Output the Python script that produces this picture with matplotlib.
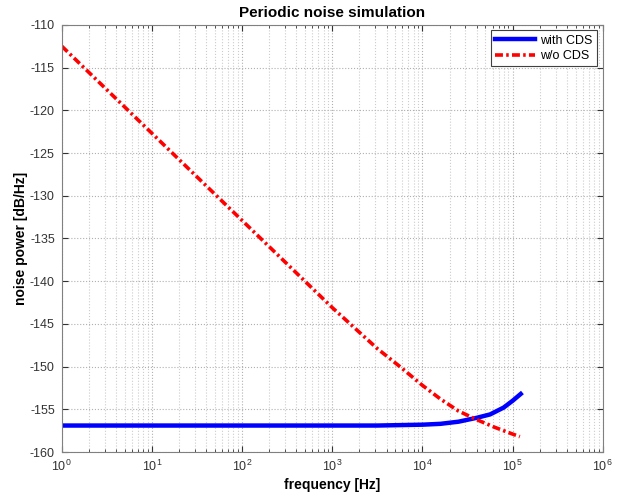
import matplotlib
matplotlib.use('Agg')
import matplotlib.pyplot as plt
from matplotlib.ticker import LogLocator, NullFormatter

plt.rcParams['font.family'] = ['Liberation Sans', 'DejaVu Sans']
plt.rcParams['mathtext.fontset'] = 'custom'
plt.rcParams['mathtext.rm'] = 'Liberation Sans'
plt.rcParams['axes.unicode_minus'] = False

# values
freq_cds = [1, 10, 100, 1000, 3162, 10000, 15849, 25119, 39811, 56234, 79433, 100000, 123027]
noise_cds = [-156.9, -156.9, -156.9, -156.9, -156.9, -156.8, -156.7, -156.45, -156.0, -155.6, -154.8, -154.0, -153.2]

freq_nocds = [1, 10, 100, 1000, 3162, 5623, 10000, 15849, 25119, 39811, 63096, 100000, 120226]
noise_nocds = [-112.5, -122.7, -132.9, -143.1, -147.9, -150.0, -152.2, -153.8, -155.2, -156.2, -157.1, -157.9, -158.2]

fig = plt.figure(figsize=(6.24, 4.97), dpi=100)
ax = fig.add_axes([0.099, 0.0905, 0.867, 0.8595])

ax.semilogx(freq_cds, noise_cds, color='#0000ff', lw=3.2, label='with CDS')
ax.semilogx(freq_nocds, noise_nocds, color='#ff0000', lw=2.6,
            linestyle=(0, (2.2, 0.9, 0.7, 0.9)), label='w/o CDS')

ax.set_xlim(1, 1e6)
ax.set_ylim(-160, -110)
ax.set_yticks(range(-160, -109, 5))
ax.xaxis.set_major_locator(LogLocator(base=10, numticks=10))
ax.xaxis.set_minor_locator(LogLocator(base=10, subs=range(2, 10), numticks=100))
ax.xaxis.set_minor_formatter(NullFormatter())

ax.grid(True, which='major', linestyle=':', color='#b0b0b0', lw=0.8)
ax.grid(True, which='minor', axis='x', linestyle=':', color='#cccccc', lw=0.8)
ax.tick_params(which='both', direction='in', top=True, right=True, labelsize=9, colors='#333333')
ax.tick_params(which='major', length=4, pad=5)
ax.tick_params(which='minor', length=2)
for s in ax.spines.values():
    s.set_color('#808080')

ax.set_title('Periodic noise simulation', fontsize=11, fontweight='bold')
ax.set_xlabel('frequency [Hz]', fontsize=10, fontweight='bold', labelpad=3)
ax.set_ylabel('noise power [dB/Hz]', fontsize=10, fontweight='bold', labelpad=1)

leg = ax.legend(loc='upper right', fontsize=9, fancybox=False, framealpha=1,
                edgecolor='#404040', handlelength=3.2, borderaxespad=0.45,
                handletextpad=0.4, labelspacing=0.25, borderpad=0.35)
leg.get_frame().set_linewidth(0.8)

fig.savefig('out.png', dpi=100)
